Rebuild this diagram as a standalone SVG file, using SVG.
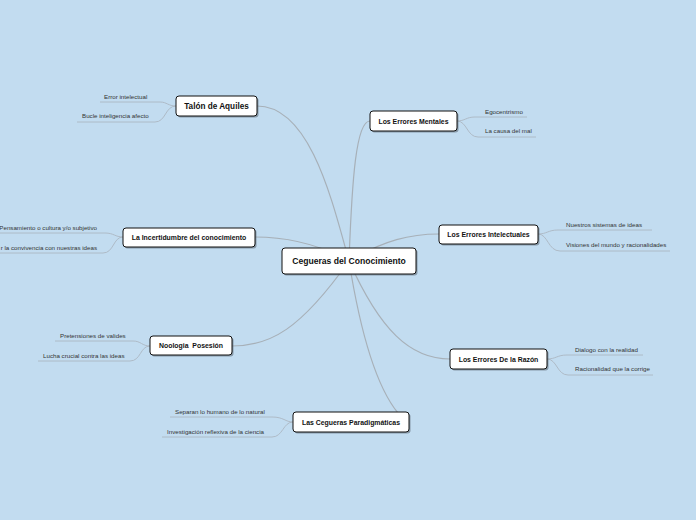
<svg xmlns="http://www.w3.org/2000/svg" width="696" height="520" viewBox="0 0 696 520">
<style>
.bg{fill:#c2dcf0}
.c{fill:none;stroke:#a7b0b8;stroke-width:1.2}
.s{fill:none;stroke:#abb7c2;stroke-width:0.9}
.box{fill:#ffffff;stroke:#111;stroke-width:1}
.sh{fill:#5a6570;opacity:0.55}
.t{font-family:"Liberation Sans",Arial,sans-serif;font-weight:bold;font-size:6.9px;fill:#111;text-anchor:middle}
.tc{font-family:"Liberation Sans",Arial,sans-serif;font-weight:bold;font-size:8.6px;fill:#111;text-anchor:middle}
.st{font-family:"Liberation Sans",Arial,sans-serif;font-size:6.2px;fill:#333}
</style>
<rect class="bg" x="0" y="0" width="696" height="520"/>
<g id="connectors">
<path class="c" d="M349,261 C332,200 310,106 257,106"/>
<path class="c" d="M349,261 C352,180 356,121 370,121"/>
<path class="c" d="M349,261 C385,240 410,234 439,234"/>
<path class="c" d="M349,261 C320,245 290,237 255,237"/>
<path class="c" d="M349,261 C300,330 270,346 232,346"/>
<path class="c" d="M349,261 C360,330 375,385 398,413"/>
<path class="c" d="M349,261 C380,330 410,359 450,359"/>
<path class="s" d="M176,106 C168,106 167,102 160,102 L100,102"/>
<path class="s" d="M176,106 C165,106 166,122 155,122 L77,122"/>
<path class="s" d="M123,237 C115,237 114,233 105,233 L0,233"/>
<path class="s" d="M123,237 C113,237 114,253 103,253 L0,253"/>
<path class="s" d="M150,346 C142,346 141,341 133,341 L55,341"/>
<path class="s" d="M150,346 C140,346 141,361 130,361 L38,361"/>
<path class="s" d="M293,422 C285,422 284,417 272,417 L170,417"/>
<path class="s" d="M293,422 C283,422 283,437 272,437 L162,437"/>
<path class="s" d="M457,121 C465,121 466,117 475,117 L527,117"/>
<path class="s" d="M457,121 C467,121 467,137 478,137 L536,137"/>
<path class="s" d="M538,234 C547,234 548,230 558,230 L652,230"/>
<path class="s" d="M538,234 C548,234 548,251 560,251 L670,251"/>
<path class="s" d="M547,359 C556,359 557,355 567,355 L643,355"/>
<path class="s" d="M547,359 C557,359 557,375 568,375 L653,375"/>
</g>
<g id="n-centro">
<rect class="sh" x="283.5" y="249.5" width="134" height="26" rx="3"/>
<rect class="box" x="282" y="248" width="134" height="26" rx="3"/>
<text class="tc" x="349" y="264">Cegueras del Conocimiento</text>
</g>
<g id="n-talon">
<rect class="sh" x="177.5" y="97.5" width="81" height="20" rx="3"/>
<rect class="box" x="176" y="96" width="81" height="20" rx="3"/>
<text class="t" x="216.5" y="108.8" style="font-size:8.2px">Talón de Aquiles</text>
<text class="st" x="104" y="99">Error intelectual</text>
<text class="st" x="82" y="118">Bucle inteligencia afecto</text>
</g>
<g id="n-incertidumbre">
<rect class="sh" x="124.5" y="229.5" width="132" height="19" rx="3"/>
<rect class="box" x="123" y="228" width="132" height="19" rx="3"/>
<text class="t" x="189" y="240">La Incertidumbre del conocimiento</text>
<text class="st" x="97" y="230" text-anchor="end">Pensamiento o cultura y/o subjetivo</text>
<text class="st" x="97" y="250" text-anchor="end">r la convivencia con nuestras ideas</text>
</g>
<g id="n-noologia">
<rect class="sh" x="151.5" y="337.5" width="82" height="19" rx="3"/>
<rect class="box" x="150" y="336" width="82" height="19" rx="3"/>
<text class="t" x="191" y="348" xml:space="preserve">Noologia  Posesión</text>
<text class="st" x="60" y="338">Pretensiones de valides</text>
<text class="st" x="43" y="358">Lucha crucial contra las ideas</text>
</g>
<g id="n-cegueras">
<rect class="sh" x="294.5" y="413.5" width="116" height="20" rx="3"/>
<rect class="box" x="293" y="412" width="116" height="20" rx="3"/>
<text class="t" x="351" y="424.5">Las Cegueras Paradigmáticas</text>
<text class="st" x="175" y="414">Separan lo humano de lo natural</text>
<text class="st" x="167" y="434">Investigación reflexiva de la ciencia</text>
</g>
<g id="n-mentales">
<rect class="sh" x="371.5" y="112.5" width="87" height="20" rx="3"/>
<rect class="box" x="370" y="111" width="87" height="20" rx="3"/>
<text class="t" x="413.5" y="123.5">Los Errores Mentales</text>
<text class="st" x="485" y="114">Egocentrismo</text>
<text class="st" x="485" y="133">La causa del mal</text>
</g>
<g id="n-intelectuales">
<rect class="sh" x="440.5" y="226.5" width="99" height="19" rx="3"/>
<rect class="box" x="439" y="225" width="99" height="19" rx="3"/>
<text class="t" x="488.5" y="237">Los Errores Intelectuales</text>
<text class="st" x="566" y="227">Nuestros sistemas de ideas</text>
<text class="st" x="566" y="247">Visiones del mundo y racionalidades</text>
</g>
<g id="n-razon">
<rect class="sh" x="451.5" y="350.5" width="97" height="20" rx="3"/>
<rect class="box" x="450" y="349" width="97" height="20" rx="3"/>
<text class="t" x="498.5" y="361.5">Los Errores De la Razón</text>
<text class="st" x="575" y="352">Dialogo con la realidad</text>
<text class="st" x="575" y="371">Racionalidad que la corrige</text>
</g>
</svg>
